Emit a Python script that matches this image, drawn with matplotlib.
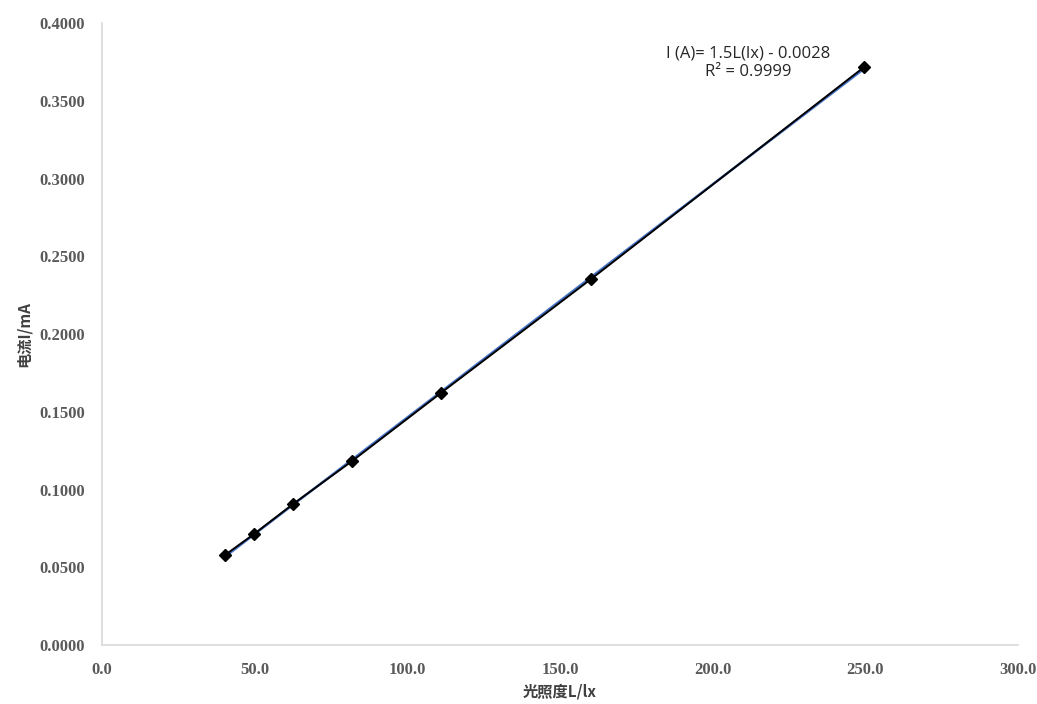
import numpy as np
import matplotlib.pyplot as plt

# 光照度 (lx) 与 电流 (mA) 数据
lux = [40.3, 49.8, 62.6, 81.9, 111.0, 160.2, 249.6]
current = [0.0579, 0.0714, 0.0907, 0.1183, 0.1621, 0.2354, 0.3717]

x_ticks = [0, 50, 100, 150, 200, 250, 300]
y_ticks = [0, 0.05, 0.10, 0.15, 0.20, 0.25, 0.30, 0.35, 0.40]

fig = plt.figure(figsize=(10.37, 7.04), dpi=100)
ax = fig.add_axes([0.0984, 0.0838, 0.8833, 0.8835])

# 线性趋势线
k, b = np.polyfit(lux, current, 1)
xs = np.array([min(lux), max(lux)])
ax.plot(xs, k * xs + b, color='#4472c4', lw=1.8, zorder=2)

# 数据点及连线
ax.plot(lux, current, color='black', lw=1.4, marker='D', markersize=6, zorder=3)

ax.set_xlim(0, 300)
ax.set_ylim(0, 0.4)
ax.set_xticks(x_ticks)
ax.set_yticks(y_ticks)
ax.set_xticklabels([f"{v:.1f}" for v in x_ticks])
ax.set_yticklabels([f"{v:.4f}" for v in y_ticks])
for lab in ax.get_xticklabels() + ax.get_yticklabels():
    lab.set_family('Liberation Serif')
    lab.set_fontweight('bold')
    lab.set_fontsize(12)
    lab.set_color('#595959')
ax.tick_params(length=0, pad=12)

for s in ['top', 'right']:
    ax.spines[s].set_visible(False)
for s in ['left', 'bottom']:
    ax.spines[s].set_color('#d9d9d9')
    ax.spines[s].set_linewidth(1.2)

ax.set_xlabel("光照度L/lx", family=['Noto Sans CJK SC', 'DejaVu Sans'],
              fontweight='bold', fontsize=11, color='#404040', labelpad=4)
ax.set_ylabel("电流I/mA", family=['Noto Sans CJK SC', 'DejaVu Sans'],
              fontweight='bold', fontsize=11, color='#404040', labelpad=6)

ax.text(211.6, 0.3746, "I (A)= 1.5L(lx) - 0.0028\nR² = 0.9999", ha='center', va='center',
        family='Open Sans', fontsize=12, color='#262626', linespacing=1.25)

fig.savefig("out.png", dpi=100)
